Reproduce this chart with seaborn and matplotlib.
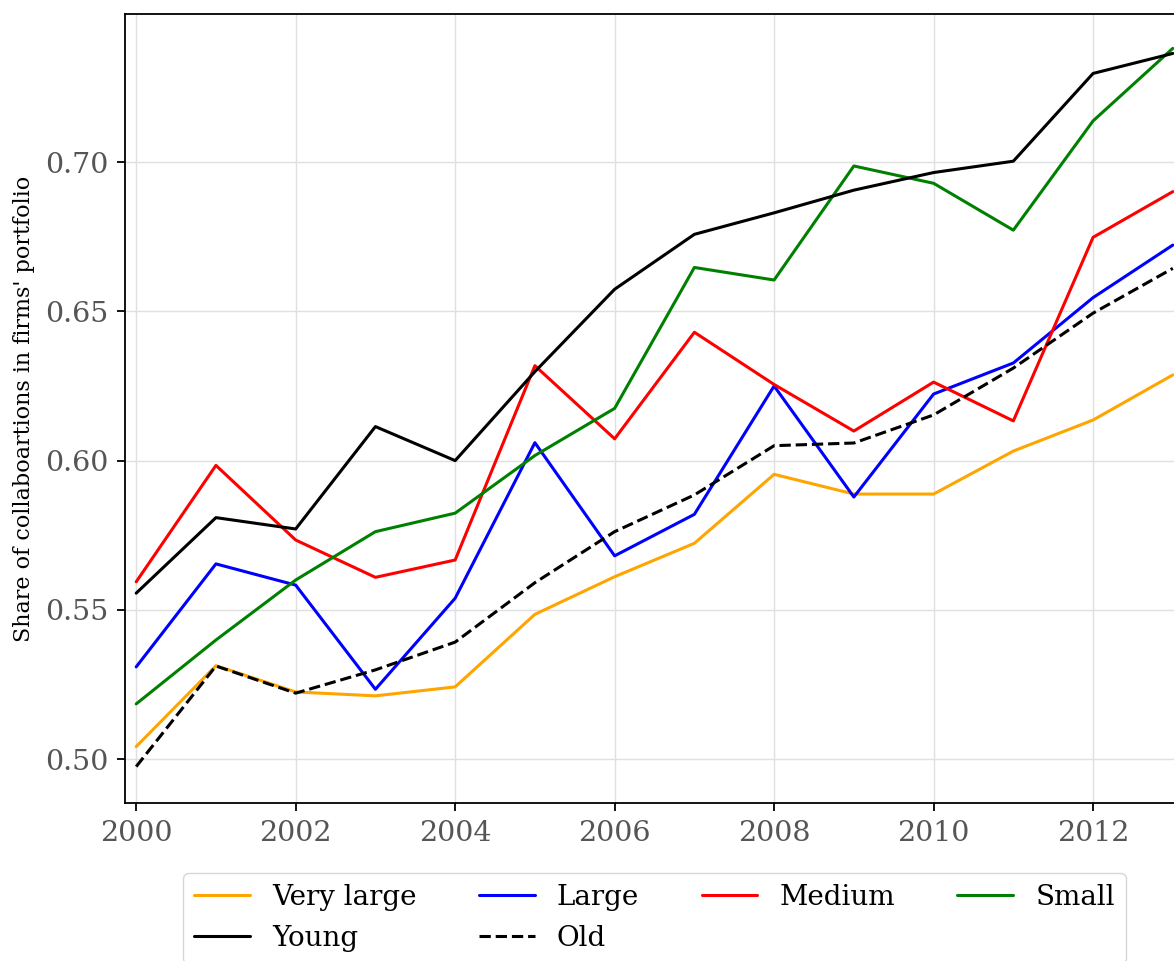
import pandas as pd
import matplotlib
matplotlib.use("Agg")
import matplotlib.pyplot as plt
import seaborn as sns

# Values
years = list(range(2000, 2014))

very_large = [0.5042, 0.5313, 0.5225, 0.5212, 0.5242, 0.5485, 0.5611, 0.5723,
              0.5954, 0.5888, 0.5888, 0.6032, 0.6136, 0.6287]
large = [0.5309, 0.5654, 0.5583, 0.5234, 0.5539, 0.6060, 0.5681, 0.5820,
         0.6250, 0.5878, 0.6223, 0.6327, 0.6546, 0.6722]
medium = [0.5594, 0.5984, 0.5734, 0.5609, 0.5667, 0.6318, 0.6073, 0.6430,
          0.6255, 0.6099, 0.6263, 0.6133, 0.6748, 0.6901]
small = [0.5185, 0.5399, 0.5600, 0.5762, 0.5824, 0.6017, 0.6175, 0.6647,
         0.6605, 0.6987, 0.6929, 0.6772, 0.7138, 0.7381]
young = [0.5556, 0.5809, 0.5771, 0.6114, 0.6000, 0.6298, 0.6574, 0.6758,
         0.6830, 0.6906, 0.6965, 0.7003, 0.7297, 0.7364]
old = [0.4975, 0.5312, 0.5221, 0.5299, 0.5392, 0.5591, 0.5762, 0.5885,
       0.6050, 0.6059, 0.6153, 0.6310, 0.6494, 0.6644]

series_names = ["Very large", "Large", "Medium", "Small", "Young", "Old"]
series_values = [very_large, large, medium, small, young, old]
series_colors = ["orange", "blue", "red", "green", "black", "black"]
series_styles = ["-", "-", "-", "-", "-", "--"]

sns.set_style("whitegrid")
plt.rcParams["font.family"] = ["DejaVu Serif"]

fig = plt.figure(figsize=(11.74, 9.61), dpi=100)
# axes runs a little past the right edge, like the cropped original
ax = fig.add_axes([0.1065, 0.1644, 0.902, 0.821])

for name, vals, col, ls in zip(series_names, series_values, series_colors, series_styles):
    df = pd.DataFrame({"year": years, "share": vals})
    sns.lineplot(data=df, x="year", y="share", ax=ax, color=col,
                 linestyle=ls, linewidth=2.2, label=name)

ax.set_xlim(1999.86, 2013.14)
ax.set_ylim(0.4853, 0.7496)
ax.set_xticks(range(2000, 2014, 2))
ax.set_yticks([0.50, 0.55, 0.60, 0.65, 0.70])
ax.set_yticklabels(["0.50", "0.55", "0.60", "0.65", "0.70"])
ax.set_xlabel("")
ax.set_ylabel("Share of collaboartions in firms' portfolio", fontsize=16,
              labelpad=7, color="black")

ax.grid(True, color="#e0e0e0", linewidth=1.0)
for sp in ax.spines.values():
    sp.set_color("black")
    sp.set_linewidth(1.3)
ax.tick_params(axis="both", which="major", direction="out", length=6, width=1.3,
               color="black", labelcolor="#555555", labelsize=20.5, pad=6,
               bottom=True, left=True)

ax.get_legend().remove()
handles, labels = ax.get_legend_handles_labels()
# legend fills column by column, so reorder to read row by row
order = [0, 4, 1, 5, 2, 3]
leg = fig.legend([handles[i] for i in order], [labels[i] for i in order],
                 loc="upper center", bbox_to_anchor=(0.5575, 0.0916),
                 bbox_transform=fig.transFigure, ncol=4, fontsize=20, frameon=True,
                 edgecolor="#cccccc", fancybox=True, borderaxespad=0,
                 columnspacing=2.25)
for t in leg.get_texts():
    t.set_color("black")

fig.savefig("out.png", dpi=100)
